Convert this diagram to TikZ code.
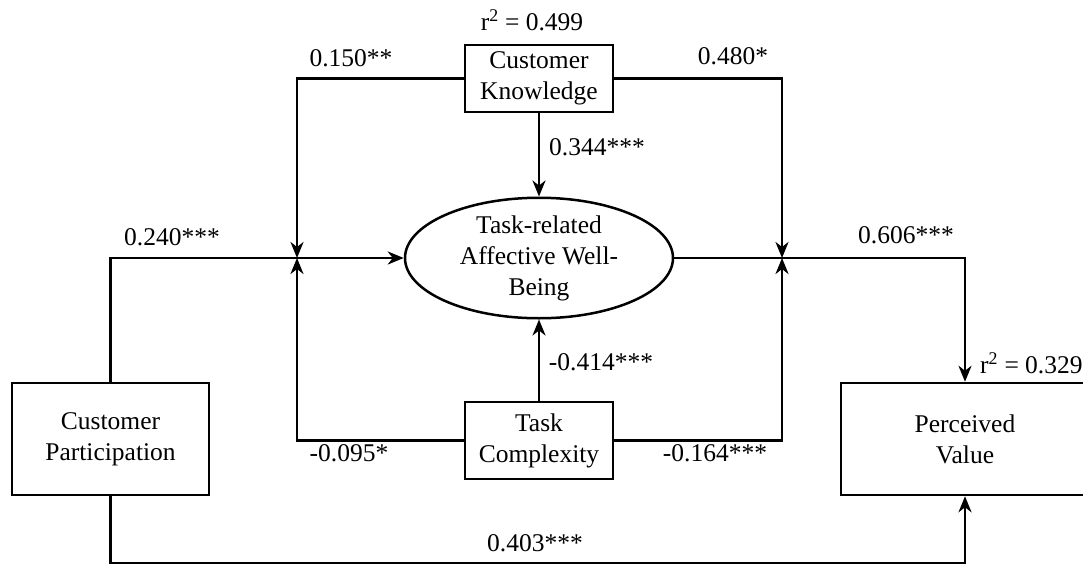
\documentclass[tikz,border=0pt]{standalone}
\usepackage{fontspec}
\setmainfont{Liberation Serif}
\newfontfamily\tnrfont{Liberation Serif}
\usetikzlibrary{shapes.geometric,arrows.meta}
\begin{document}
\begin{tikzpicture}[x=1pt,y=-1pt,
  txt/.style={font=\tnrfont\fontsize{25.5}{31}\selectfont, align=center, inner sep=0pt},
  box/.style={txt, draw, line width=2.5pt, rectangle},
  oval/.style={txt, draw, line width=2.5pt, ellipse},
  lbl/.style={font=\tnrfont\fontsize{25.5}{31}\selectfont, inner sep=0pt},
  conn/.style={line width=2.5pt},
  arr/.style={conn, -{Stealth[length=16pt,width=13pt,inset=5pt]}}]
\useasboundingbox (0,0) rectangle (1083,566);
\clip (0,0) rectangle (1083,566);
% nodes
\node[box, minimum width=148pt, minimum height=67pt] (CK) at (539,78.5) {Customer\\Knowledge};
\node[box, minimum width=148pt, minimum height=77pt] (TC) at (539,440.5) {Task\\Complexity};
\node[oval, minimum width=268pt, minimum height=117pt] (AWB) at (539,258) {Task-related\\Affective Well-\\Being};
\node[box, minimum width=197pt, minimum height=112pt] (CP) at (110.5,439) {Customer\\Participation};
\node[box, minimum width=248pt, minimum height=112pt] (PV) at (965,439) {Perceived\\Value};
\coordinate (jl) at (297,258);
\coordinate (jr) at (782,258);
\coordinate (bot) at (0,563);
% connectors
\draw[arr] (CP.north) |- (AWB.west);
\draw[arr] (CK.west) -| (jl);
\draw[arr] (TC.west) -| (jl);
\draw[arr] (CK.south) -- (AWB.north);
\draw[arr] (TC.north) -- (AWB.south);
\draw[arr] (CK.east) -| (jr);
\draw[arr] (TC.east) -| (jr);
\draw[arr] (AWB.east) -| (PV.north);
\draw[arr] (CP.south) -- (CP.south |- bot) -| (PV.south);
% labels
\node[lbl] (r1) at (532,20) {r\textsuperscript{2} = 0.499};
\node[lbl] (l150) at (351,58) {0.150**};
\node[lbl] (l480) at (733,56) {0.480*};
\node[lbl] (l344) at (597,147) {0.344***};
\node[lbl] (l240) at (172,237) {0.240***};
\node[lbl] (l606) at (906,235) {0.606***};
\node[lbl] (l414) at (601,362) {-0.414***};
\node[lbl, anchor=west] (r2) at (980,363) {r\textsuperscript{2} = 0.329};
\node[lbl] (l095) at (349,453) {-0.095*};
\node[lbl] (l164) at (715,453) {-0.164***};
\node[lbl] (l403) at (535,543) {0.403***};
\end{tikzpicture}
\end{document}
